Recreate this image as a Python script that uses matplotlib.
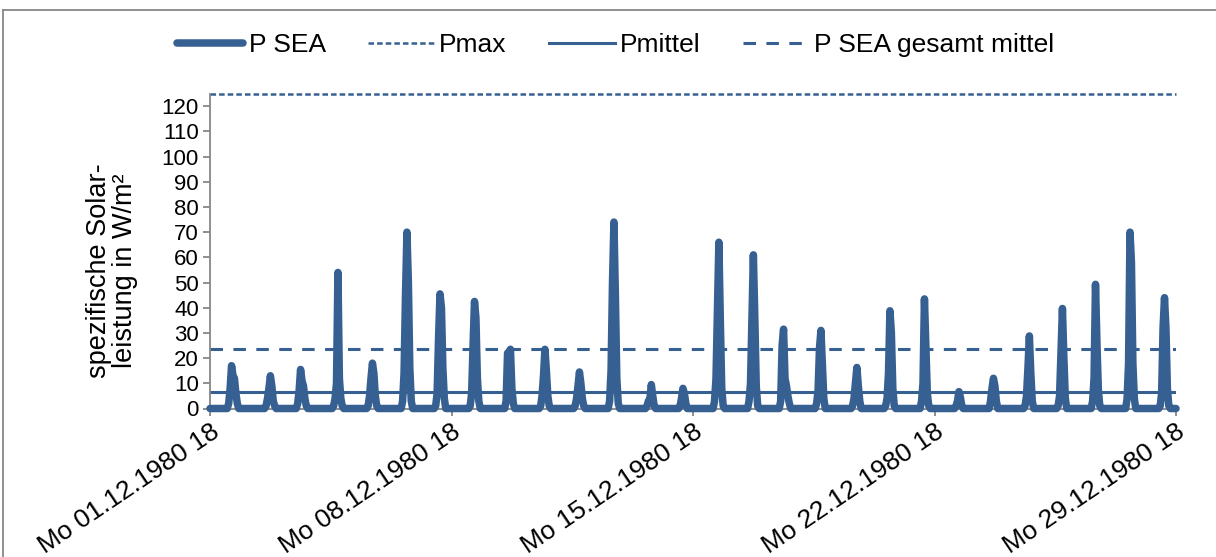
import numpy as np
import matplotlib
matplotlib.use("Agg")
import matplotlib.pyplot as plt
from matplotlib.lines import Line2D

plt.rcParams['font.family'] = ['Liberation Sans', 'DejaVu Sans']
plt.rcParams['lines.scale_dashes'] = False

# ---------------- data ----------------
# hourly series starting Mo 01.12.1980 18:00, 28 days (673 points)
n_days = 28
start_hour_offset = 6            # 18:00 -> next midnight
day_hours = list(range(6, 19))   # clock hours 6..18 for daily profiles

# daily irradiance profiles (W/m²) for clock hours 6..18, days 02.12 .. 29.12
day_profiles = [
    [0, 2, 8, 17, 13, 12, 6, 2, 0, 0, 0, 0, 0],
    [0, 0, 0, 1, 4, 8, 13, 9, 3, 1, 0, 0, 0],
    [0, 2, 7, 15.5, 11, 9, 4, 1, 0, 0, 0, 0, 0],
    [0, 0, 1, 4, 10, 54, 12, 4, 1, 0, 0, 0, 0],
    [0, 0, 1, 5, 12, 18, 14, 5, 1, 0, 0, 0, 0],
    [0, 0, 3, 14, 45, 70, 50, 16, 3, 0, 0, 0, 0],
    [0, 1, 6, 28, 45.5, 40, 16, 4, 0, 0, 0, 0, 0],
    [0, 1, 6, 25, 42.5, 36, 12, 3, 0, 0, 0, 0, 0],
    [0, 0, 3, 22, 22.5, 23.5, 8, 2, 0, 0, 0, 0, 0],
    [0, 0, 1, 5, 13, 23.5, 15, 5, 1, 0, 0, 0, 0],
    [0, 0, 1, 4, 9, 14.5, 10, 4, 1, 0, 0, 0, 0],
    [0, 0, 3, 15, 50, 74, 45, 12, 2, 0, 0, 0, 0],
    [0, 0, 0, 0, 1, 3, 3.5, 9.5, 5, 1, 0, 0, 0],
    [0, 0, 0, 1, 4, 8, 6, 2, 0, 0, 0, 0, 0],
    [0, 0, 0, 3, 12, 38, 66, 35, 8, 1, 0, 0, 0],
    [0, 0, 0, 3, 10, 35, 61, 36, 9, 1, 0, 0, 0],
    [0, 3, 25, 31.5, 12, 9, 5, 2, 0, 0, 0, 0, 0],
    [0, 0, 2, 7, 24, 31, 18, 4, 0, 0, 0, 0, 0],
    [0, 0, 0, 1, 4, 10, 16.3, 9, 3, 0, 0, 0, 0],
    [0, 0, 1, 4, 14, 38.8, 30, 8, 1, 0, 0, 0, 0],
    [0, 0, 0, 3, 10, 43.5, 25, 6, 1, 0, 0, 0, 0],
    [0, 0, 0, 1, 3, 6.7, 4.5, 1, 0, 0, 0, 0, 0],
    [0, 0, 0, 3, 8, 12, 9, 3, 0, 0, 0, 0, 0],
    [0, 0, 0, 1, 5, 16, 28.8, 14, 3, 0, 0, 0, 0],
    [0, 0, 1, 5, 22, 39.7, 20, 4, 0, 0, 0, 0, 0],
    [0, 0, 3, 12, 49.3, 26, 7, 1, 0, 0, 0, 0, 0],
    [0, 0, 4, 18, 70, 58, 18, 4, 0, 0, 0, 0, 0],
    [0, 1, 6, 32, 44, 32, 8, 1, 0, 0, 0, 0, 0],
]

p_max = 125.0
p_mittel = 6.4
p_gesamt_mittel = 23.8

tick_labels = ["Mo 01.12.1980 18", "Mo 08.12.1980 18", "Mo 15.12.1980 18",
               "Mo 22.12.1980 18", "Mo 29.12.1980 18"]

# ---------------- build hourly series ----------------
n_points = n_days * 24 + 1
p_sea = np.zeros(n_points)
for d, prof in enumerate(day_profiles):
    for h, v in zip(day_hours, prof):
        p_sea[start_hour_offset + 24 * d + h] = v
hours = np.arange(n_points)

# ---------------- figure ----------------
W, H = 1216, 557
fig = plt.figure(figsize=(W / 100, H / 100), dpi=100)
ax = fig.add_axes([210 / W, 1 - 408.5 / H, (1176 - 210) / W, (408.5 - 93.6) / H])

col = '#376092'
grey = '#868686'

ax.plot(hours, p_sea, color=col, lw=5.4, solid_joinstyle='round',
        solid_capstyle='round', zorder=3, clip_on=False, label='P SEA')
ax.axhline(p_max, color=col, lw=1.8, dashes=(4.0, 2.2), clip_on=False,
           zorder=2, label='Pmax')
ax.axhline(p_mittel, color=col, lw=2.2, zorder=2, label='Pmittel')
ax.axhline(p_gesamt_mittel, color=col, lw=2.2, dashes=(9, 7.5), zorder=2,
           label='P SEA gesamt mittel')

ax.set_xlim(0, n_points - 1)
ax.set_ylim(0, p_max)
ax.set_yticks(np.arange(0, 121, 10))
ax.set_xticks(np.arange(0, n_points, 168))
ax.set_xticklabels(tick_labels, rotation=34, ha='right', va='top',
                   rotation_mode='anchor', fontsize=19)

for s in ['top', 'right']:
    ax.spines[s].set_visible(False)
for s in ['left', 'bottom']:
    ax.spines[s].set_color(grey)
    ax.spines[s].set_linewidth(1.3)
ax.tick_params(axis='both', colors=grey, labelcolor='black',
               length=5, width=1.3, direction='out')
ax.tick_params(axis='y', pad=3, labelsize=16)
ax.tick_params(axis='x', pad=3)

fig.text(112 / W, 1 - 271 / H, "spezifische Solar-\nleistung in W/m²",
         rotation=90, ha='center', va='center', fontsize=19.5,
         linespacing=1.0, multialignment='center')

handles = [
    Line2D([], [], color=col, lw=5.4, solid_capstyle='round'),
    Line2D([], [], color=col, lw=1.8, dashes=(4.0, 2.2)),
    Line2D([], [], color=col, lw=2.2),
    Line2D([], [], color=col, lw=2.2, dashes=(9, 7.5)),
]
fig.legend(handles, ['P SEA', 'Pmax', 'Pmittel', 'P SEA gesamt mittel'],
           loc='center', bbox_to_anchor=(616 / W, 1 - 45 / H), ncol=4,
           frameon=False, fontsize=19, handlelength=2.5, handletextpad=0.2,
           columnspacing=1.6)

# chart border
fig.add_artist(Line2D([3 / W, 3 / W], [0, 1 - 10 / H], transform=fig.transFigure,
                      color=grey, lw=1.3))
fig.add_artist(Line2D([3 / W, 1], [1 - 10 / H, 1 - 10 / H], transform=fig.transFigure,
                      color=grey, lw=1.3))

fig.savefig('out.png', dpi=100)
